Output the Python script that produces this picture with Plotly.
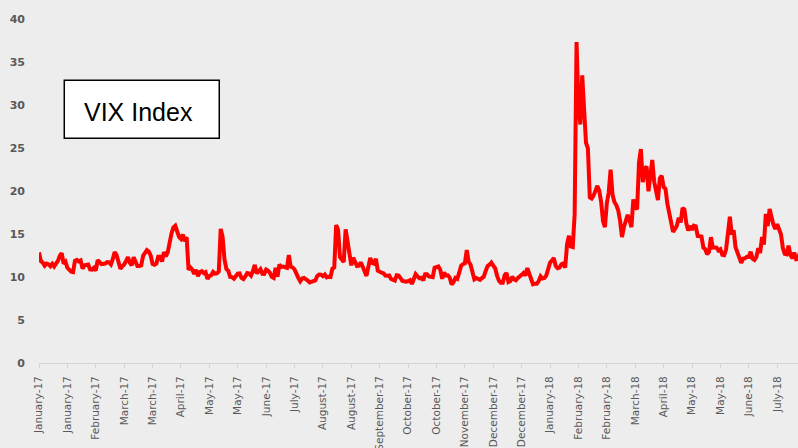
import plotly.graph_objects as go

# Daily VIX closes (all weekdays from 3 Jan 2017; None = market holiday)
vix_2017_01 = [12.85, 11.85, 11.67, 11.32, 11.56, 11.49, 11.26, 11.54, 11.23, None, 11.87, 12.48, 12.78, 11.54,
               11.77, 11.07, 10.81, 10.63, 10.58, 11.88, 11.99]
vix_2017_02 = [11.81, 11.93, 10.97, 11.37, 11.45, 11.45, 10.88, 10.85, 11.07, 10.74, 11.97, 11.76, 11.49, None,
               11.57, 11.74, 11.71, 11.47, 12.09, 12.92]
vix_2017_03 = [12.54, 11.81, 10.96, 11.24, 11.45, 11.86, 12.30, 11.66, 11.35, 12.30, 11.63, 11.28, 11.28, 11.34,
               12.47, 12.81, 13.12, 12.96, 12.50, 11.53, 11.42, 11.54, 12.37]
vix_2017_04 = [12.38, 11.79, 12.89, 12.39, 12.87, 14.05, 15.07, 15.77, 15.96, None, 14.66, 14.42, 14.93, 14.15,
               14.63, 10.84, 11.10, 10.85, 10.36, 10.82]
vix_2017_05 = [10.11, 10.59, 10.68, 10.46, 10.57, 9.77, 10.11, 10.21, 10.60, 10.40, 10.42, 10.65, 15.59, 14.66,
               12.04, 10.93, 10.72, 10.02, 9.99, 9.81, None, 10.38, 10.41]
vix_2017_06 = [9.89, 9.75, 10.07, 10.45, 10.39, 10.16, 10.70, 11.40, 10.42, 10.64, 10.90, 10.38, 10.37, 10.86,
               10.75, 10.48, 10.02, 9.90, 11.06, 10.03, 11.44, 11.18]
vix_2017_07 = [11.22, None, 11.07, 12.54, 11.19, 11.11, 10.89, 10.30, 9.90, 9.51, 9.82, 9.89, 9.79, 9.58,
               9.36, 9.43, 9.43, 9.60, 10.11, 10.29, 10.26]
vix_2017_08 = [10.09, 10.28, 9.95, 10.03, 10.00, 10.96, 11.11, 16.04, 15.51, 12.33, 12.04, 11.74, 15.55, 14.26,
               13.19, 11.35, 12.25, 11.78, 11.28, 11.32, 11.70, 11.22, 10.59]
vix_2017_09 = [10.13, None, 12.23, 11.63, 11.55, 12.12, 10.73, 10.58, 10.50, 10.44, 10.17, 10.15, 10.18, 9.78,
               9.67, 9.59, 10.21, 10.17, 9.87, 9.55, 9.51]
vix_2017_10 = [9.45, 9.51, 9.63, 9.19, 9.65, 10.33, 10.08, 9.85, 9.91, 9.61, 10.31, 10.31, 10.06, 10.05,
               9.97, 11.07, 11.16, 11.23, 10.85, 9.80, 10.50, 10.18]
vix_2017_11 = [10.20, 9.93, 9.14, 9.40, 9.89, 9.78, 10.50, 11.29, 11.50, 11.59, 13.13, 11.76, 11.43, 10.65,
               9.73, 9.88, None, 9.67, 9.87, 10.03, 10.70, 11.28]
vix_2017_12 = [11.43, 11.68, 11.33, 11.02, 10.16, 9.58, 9.34, 9.34, 10.18, 10.49, 9.42, 9.53, 10.03, 9.72,
               9.62, 9.90, None, 10.25, 10.47, 10.18, 11.04]
vix_2018_01 = [None, 9.77, 9.15, 9.22, 9.22, 9.52, 10.08, 9.82, 9.88, 10.16, None, 11.66, 11.91, 12.22,
               11.27, 11.03, 11.10, 11.47, 11.58, 11.08, 13.84, 14.79, 13.54]
vix_2018_02 = [13.47, 17.31, 37.32, 29.98, 27.73, 33.46, 29.06, 25.61, 24.97, 19.26, 19.13, 19.46, None, 20.60,
               20.02, 18.72, 16.49, 15.80, 18.59, 19.85]
vix_2018_03 = [22.47, 19.59, 18.73, 18.36, 17.76, 16.54, 14.64, 15.78, 16.35, 17.23, 16.59, 15.80, 19.02, 18.20,
               17.86, 23.34, 24.87, 21.03, 22.50, 22.87, 19.97, None]
vix_2018_04 = [23.62, 21.10, 20.06, 18.94, 21.49, 21.77, 20.47, 20.24, 18.49, 17.41, 16.56, 15.25, 15.60, 15.96,
               16.88, 16.34, 18.02, 17.84, 16.24, 15.41, 15.93]
vix_2018_05 = [15.49, 15.97, 15.90, 14.77, 14.75, 14.71, 13.42, 13.23, 12.65, 12.93, 14.63, 13.42, 13.43, 13.42,
               13.08, 13.22, 12.58, 12.53, 13.22, None, 17.02, 14.94, 15.43]
vix_2018_06 = [13.46, 12.74, 12.40, 11.64, 12.13, 12.18, 12.35, 12.34, 12.94, 12.12, 11.98, 12.31, 13.35, 12.79,
               14.64, 13.77, 17.33, 15.92, 17.91, 16.85, 16.09]
vix_2018_07 = [15.60, 16.14, None, 14.97, 13.37, 12.69, 12.64, 13.63, 12.58, 12.18, 12.83, 12.06, 12.10, 12.87,
               12.86]

tick_labels = ["January-17", "January-17", "February-17", "March-17", "March-17", "April-17", "May-17",
               "May-17", "June-17", "July-17", "August-17", "August-17", "September-17", "October-17",
               "October-17", "November-17", "December-17", "December-17", "January-18", "February-18",
               "February-18", "March-18", "April-18", "May-18", "May-18", "June-18", "July-18"]
label_step = 15
visible_points = 401

vix = (vix_2017_01 + vix_2017_02 + vix_2017_03 + vix_2017_04 + vix_2017_05 + vix_2017_06 +
       vix_2017_07 + vix_2017_08 + vix_2017_09 + vix_2017_10 + vix_2017_11 + vix_2017_12 +
       vix_2018_01 + vix_2018_02 + vix_2018_03 + vix_2018_04 + vix_2018_05 + vix_2018_06 + vix_2018_07)
x = list(range(len(vix)))
tickvals = [i * label_step for i in range(len(tick_labels))]

bg = "#EDEDED"
fig = go.Figure()
fig.add_trace(go.Scatter(x=x, y=vix, mode="lines", connectgaps=True,
                         line=dict(color="#FF0000", width=4), showlegend=False))

fig.update_layout(
    width=798, height=448,
    paper_bgcolor=bg, plot_bgcolor=bg,
    margin=dict(l=39, r=0, t=19, b=85, autoexpand=False),
    xaxis=dict(range=[0, visible_points], tickmode="array", tickvals=tickvals, ticktext=tick_labels,
               tickangle=-90, showgrid=False, zeroline=False, showline=True, linecolor="#D4D4D4",
               linewidth=1, ticks="outside", ticklen=4, tickcolor="#D4D4D4", automargin=False,
               tickfont=dict(family="DejaVu Sans", size=10.5, color="#595959"), ticklabelstandoff=4),
    yaxis=dict(range=[0, 40], dtick=5, showgrid=False, zeroline=False, showline=False, automargin=False,
               tickfont=dict(family="DejaVu Sans", size=11, color="#595959", weight="bold"),
               ticklabelstandoff=13),
)

fig.add_shape(type="rect", xref="paper", yref="paper", x0=0.0333, x1=0.2375, y0=0.6535, y1=0.822,
              line=dict(color="#000000", width=1.5), fillcolor="#FFFFFF", layer="above")
fig.add_annotation(xref="paper", yref="paper", x=0.1308, y=0.729, xanchor="center", yanchor="middle",
                   text="VIX Index", showarrow=False,
                   font=dict(family="Liberation Sans", size=25, color="#000000"))

fig.write_html("out.html", config={"displayModeBar": False},
               post_script="document.body.style.margin='0';document.body.style.background='#EDEDED';")
